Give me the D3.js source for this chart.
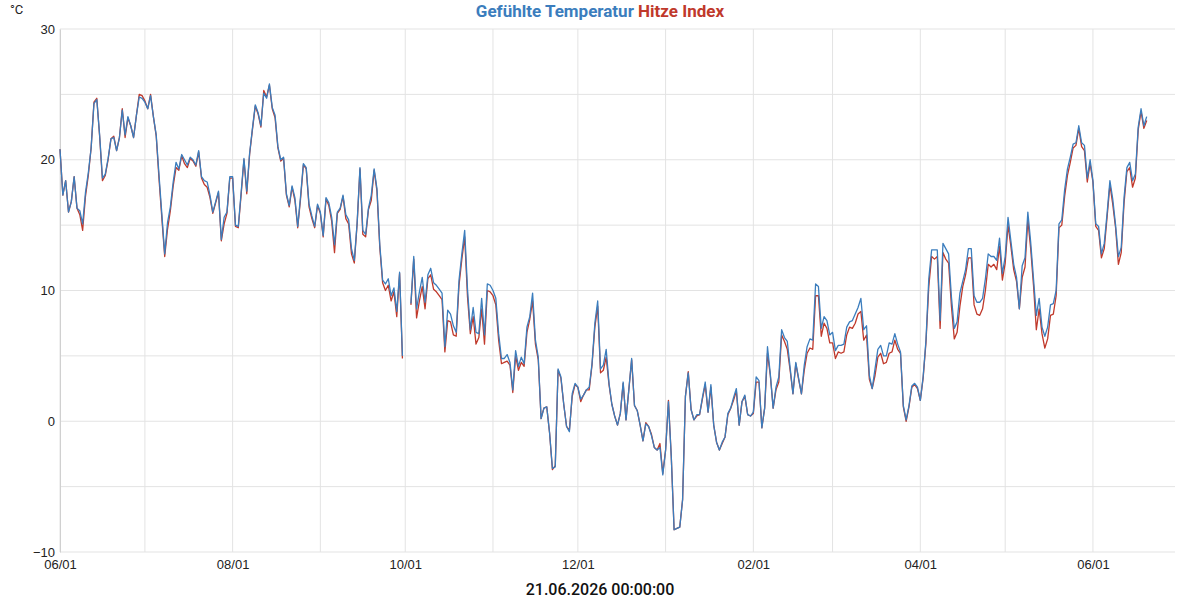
<!DOCTYPE html>
<html>
<head>
<meta charset="utf-8">
<script src="https://cdn.jsdelivr.net/npm/d3@7"></script>
<style>
body { margin: 0; background: #fff; }
svg { font-family: Roboto, "Noto Sans", sans-serif; }
</style>
</head>
<body>
<svg id="chart" width="1200" height="600"></svg>
<script>
// one value per day, starting 01.06.2025 (null = no data)
const startDay = "2025-06-01";
const endDay = "2026-06-30";

const gefuehlt = [
  // Jun 2025
  20.8,17.3,18.4,16.0,16.8,18.7,16.3,16.1,15.1,17.5, 19.0,20.9,24.3,24.6,21.9,18.6,18.9,20.1,21.6,21.7,
  20.7,21.7,23.8,21.9,23.3,22.6,21.7,23.4,24.8,24.7,
  // Jul
  24.4,23.9,24.9,23.3,21.9,18.8,15.8,12.8,15.2,16.4, 18.3,19.8,19.3,20.4,20.0,19.6,20.2,20.0,19.6,20.7,
  18.7,18.4,18.3,17.3,16.0,16.8,17.6,13.9,15.6,16.0, 18.7,
  // Aug
  18.7,15.0,14.9,17.5,20.1,17.6,20.5,22.4,24.2,23.6, 22.6,25.1,24.7,25.8,24.0,23.4,21.0,20.0,20.2,17.4,
  16.5,18.0,17.1,14.9,17.2,19.7,19.4,16.6,15.7,14.9, 16.6,
  // Sep
  16.0,14.2,17.1,16.7,15.6,13.5,16.0,16.3,17.3,15.8, 15.4,13.2,12.3,15.2,19.4,14.6,14.3,16.3,17.3,19.3,
  17.8,13.5,10.8,10.5,10.9,9.6,10.2,8.4,11.4,5.0,
  // Oct
  null,null,9.0,12.6,8.6,9.9,11.0,9.1,11.2,11.7, 10.6,10.4,10.1,9.8,5.7,8.5,8.2,7.3,6.8,10.8,
  12.8,14.6,10.1,7.0,8.7,6.8,6.7,9.4,6.6,10.5, 10.4,
  // Nov
  10.0,9.4,6.7,4.8,4.8,5.1,4.5,2.4,5.4,4.2, 4.9,4.4,7.2,8.0,9.8,6.2,4.9,0.2,1.0,1.1,
  -0.9,-3.6,-3.5,4.0,3.4,1.3,-0.4,-0.8,2.1,2.9,
  // Dec
  2.6,1.7,2.0,2.4,2.6,4.4,7.5,9.2,4.0,4.3, 5.5,2.9,1.3,0.4,-0.3,0.6,3.0,0.1,2.4,4.8,
  1.2,0.8,-0.3,-1.5,-0.2,-0.4,-1.1,-2.0,-2.2,-2.0, -4.1,
  // Jan 2026
  -2.2,1.5,-2.7,-8.3,-8.2,-8.1,-6.0,1.9,3.7,0.9, 0.1,0.5,0.5,1.8,3.0,0.7,2.8,-0.3,-1.6,-2.2,
  -1.6,-1.2,0.6,1.0,1.8,2.5,-0.3,1.5,2.0,0.5, 0.4,
  // Feb
  0.7,3.4,3.1,-0.5,1.0,5.7,3.6,1.0,2.6,3.4, 7.0,6.4,6.1,4.1,2.1,4.5,3.3,2.1,4.3,5.7,
  6.3,6.2,10.5,10.3,7.1,8.0,7.7,6.6,
  // Mar
  6.8,5.4,5.8,5.8,5.9,7.2,7.6,7.7,8.2,8.7, 9.4,7.0,7.3,3.5,2.5,4.0,5.5,5.8,5.0,5.0,
  6.0,5.9,6.7,5.9,5.3,1.2,0.1,1.2,2.7,2.9, 2.6,
  // Apr
  1.6,3.4,6.2,10.9,13.1,13.1,13.1,7.7,13.6,13.2, 12.8,9.5,7.1,7.6,9.8,10.7,11.6,13.2,13.2,9.6,
  9.1,9.1,9.4,10.9,12.8,12.6,12.6,12.3,14.0,11.3,
  // May
  12.6,15.6,13.8,12.0,11.0,8.6,11.9,12.5,16.0,13.7, 10.9,8.1,9.4,7.2,6.5,7.2,8.9,9.0,10.0,15.1,
  15.4,17.7,19.3,20.2,21.2,21.3,22.6,21.3,21.1,18.6, 20.0,
  // Jun
  18.4,15.1,14.9,12.8,13.6,15.9,18.4,17.0,15.0,12.6, 13.3,17.1,19.4,19.8,18.4,18.9,22.5,23.9,22.6,23.3
];

const hitze = [
  // Jun 2025
  20.8,17.3,18.4,16.0,16.8,18.7,16.3,15.8,14.6,17.2, 18.8,20.9,24.4,24.7,21.8,18.4,18.8,20.0,21.6,21.8,
  20.7,21.7,23.9,21.7,23.2,22.6,21.7,23.4,25.0,24.9,
  // Jul
  24.5,23.9,25.0,23.3,21.8,18.5,15.5,12.6,14.7,16.1, 18.0,19.4,19.2,20.3,19.7,19.4,20.1,19.9,19.5,20.6,
  18.6,18.1,17.9,17.1,15.9,16.7,17.5,13.8,15.1,15.9, 18.6,
  // Aug
  18.6,14.9,14.8,17.3,20.0,17.4,20.4,22.3,24.1,23.5, 22.5,25.3,24.8,25.7,23.9,23.2,20.9,19.9,20.1,17.3,
  16.4,17.9,16.9,14.8,17.0,19.6,19.3,16.4,15.5,14.8, 16.5,
  // Sep
  15.9,14.1,17.0,16.5,15.3,12.9,15.9,16.2,17.2,15.5, 15.1,12.8,12.1,15.1,19.3,14.3,14.1,16.2,16.9,19.2,
  17.6,13.3,10.6,10.0,10.4,9.2,9.9,8.0,11.3,4.8,
  // Oct
  null,null,8.9,12.4,7.9,9.2,10.3,8.6,10.9,11.2, 10.1,9.9,9.6,9.3,5.3,7.7,7.6,6.6,6.5,10.4,
  12.4,14.1,9.5,6.7,8.0,5.9,6.4,8.6,5.9,10.0, 9.9,
  // Nov
  9.6,8.9,6.2,4.4,4.5,4.6,4.3,2.2,5.0,3.9, 4.5,4.2,6.8,7.8,9.2,5.9,4.7,0.2,1.0,1.1,
  -0.9,-3.7,-3.4,3.9,3.3,1.3,-0.4,-0.7,1.9,2.8,
  // Dec
  2.6,1.5,2.0,2.4,2.4,4.3,7.2,8.8,3.7,3.9, 4.9,2.8,1.3,0.4,-0.3,0.6,2.9,0.1,2.4,4.7,
  1.2,0.8,-0.3,-1.5,-0.1,-0.4,-1.0,-2.0,-2.2,-1.7, -4.0,
  // Jan 2026
  -2.2,1.6,-2.7,-8.3,-8.2,-8.1,-6.0,1.9,3.8,0.9, 0.1,0.4,0.5,1.7,2.8,0.7,2.6,-0.3,-1.6,-2.2,
  -1.7,-1.2,0.5,1.0,1.6,2.3,-0.3,1.5,1.9,0.5, 0.4,
  // Feb
  0.6,3.0,3.0,-0.5,1.0,5.2,3.5,1.0,2.4,3.0, 6.6,6.1,5.5,3.9,2.1,4.4,3.2,2.1,3.9,5.2,
  5.6,5.5,9.6,9.6,6.5,7.5,7.1,6.0,
  // Mar
  6.0,4.8,5.3,5.2,5.3,6.6,7.2,7.1,7.5,8.2, 8.4,6.2,6.6,3.2,2.5,3.5,4.9,5.2,4.4,4.5,
  5.2,5.3,6.2,5.5,5.2,1.1,0.0,1.1,2.6,2.8, 2.5,
  // Apr
  1.6,3.3,6.0,10.3,12.6,12.4,12.6,7.1,12.9,12.4, 12.1,8.8,6.3,6.8,8.8,10.3,11.2,12.5,12.5,8.9,
  8.2,8.1,8.6,10.0,12.0,11.8,12.0,11.6,13.4,10.8,
  // May
  12.1,15.0,13.4,11.6,10.7,8.6,11.0,11.8,15.4,13.2, 10.4,7.0,8.6,6.7,5.6,6.3,8.1,8.2,9.6,14.8,
  15.0,17.2,18.8,19.8,20.9,21.1,22.4,21.0,20.7,18.3, 19.7,
  // Jun
  18.3,14.9,14.6,12.5,13.2,15.6,18.1,16.6,14.8,12.0, 12.9,16.7,19.1,19.4,17.9,18.6,22.3,23.7,22.4,23.0
];

const xTickDates = ["2025-06-01","2025-08-01","2025-10-01","2025-12-01","2026-02-01","2026-04-01","2026-06-01"];
const yGrid = [-10,-5,0,5,10,15,20,25,30];
const yLabels = [-10,0,10,20,30];
const titleParts = [["Gefühlte Temperatur ", "#3b7dbd"], ["Hitze Index", "#c0392b"]];
const footer = "21.06.2026 00:00:00";

const parse = d3.utcParse("%Y-%m-%d");
const t0 = parse(startDay);
const dates = gefuehlt.map((v, i) => d3.utcDay.offset(t0, i));

const margin = {top: 29, right: 25, bottom: 48, left: 60};
const width = 1200 - margin.left - margin.right;
const height = 600 - margin.top - margin.bottom;

const svg = d3.select("#chart");
const g = svg.append("g").attr("transform", "translate(" + margin.left + "," + margin.top + ")");

const x = d3.scaleUtc().domain([t0, parse(endDay)]).range([0, width]);
const y = d3.scaleLinear().domain([-10, 30]).range([height, 0]);

// grid
g.selectAll(".hgrid").data(yGrid).enter().append("line")
  .attr("x1", 0).attr("x2", width)
  .attr("y1", d => y(d)).attr("y2", d => y(d))
  .attr("stroke", "#e3e3e3").attr("stroke-width", 1);

g.selectAll(".vgrid").data(d3.utcMonth.range(t0, parse(endDay))).enter().append("line")
  .attr("x1", d => x(d)).attr("x2", d => x(d))
  .attr("y1", 0).attr("y2", height)
  .attr("stroke", "#e3e3e3").attr("stroke-width", 1);

// axes
const xAxis = g.append("g")
  .attr("transform", "translate(0," + height + ")")
  .call(d3.axisBottom(x).tickValues(xTickDates.map(parse)).tickFormat(d3.utcFormat("%m/%d")).tickSize(0).tickPadding(8));
xAxis.select(".domain").remove();
xAxis.selectAll("text").attr("font-size", 13).attr("fill", "#222");

const yAxis = g.append("g")
  .call(d3.axisLeft(y).tickValues(yLabels).tickSize(0).tickPadding(5));
yAxis.select(".domain").attr("stroke", "#d0d0d0");
yAxis.selectAll("text").attr("font-size", 13).attr("fill", "#222");

// lines
const line = d3.line()
  .defined(d => d[1] !== null)
  .x(d => x(d[0]))
  .y(d => y(d[1]));

g.append("path")
  .datum(dates.map((d, i) => [d, hitze[i]]))
  .attr("fill", "none").attr("stroke", "#c0392b").attr("stroke-width", 1.3)
  .attr("stroke-linejoin", "round")
  .attr("d", line);

g.append("path")
  .datum(dates.map((d, i) => [d, gefuehlt[i]]))
  .attr("fill", "none").attr("stroke", "#3b7dbd").attr("stroke-width", 1.3)
  .attr("stroke-linejoin", "round")
  .attr("d", line);

// title
const title = svg.append("text")
  .attr("x", 600).attr("y", 17)
  .attr("text-anchor", "middle")
  .attr("font-size", 17).attr("font-weight", "bold");
titleParts.forEach(p => title.append("tspan").attr("fill", p[1]).text(p[0]));

svg.append("text").attr("x", 10).attr("y", 14)
  .attr("font-size", 13).attr("fill", "#222").text("°C");

svg.append("text").attr("x", 600).attr("y", 595)
  .attr("text-anchor", "middle")
  .attr("font-size", 16).attr("font-weight", "500").attr("fill", "#111")
  .text(footer);
</script>
</body>
</html>
